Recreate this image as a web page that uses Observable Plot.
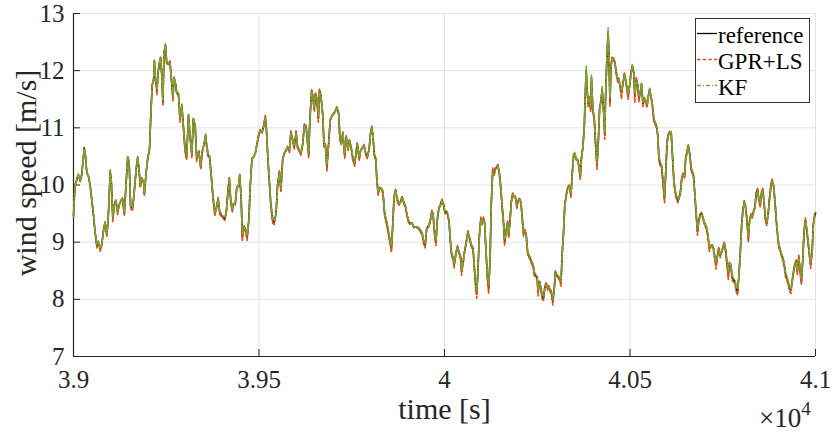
<!DOCTYPE html>
<html>
<head>
<meta charset="utf-8">
<script src="https://cdn.jsdelivr.net/npm/d3@7"></script>
<script src="https://cdn.jsdelivr.net/npm/@observablehq/plot@0.6"></script>
<style>
  html, body { margin: 0; padding: 0; background: #fff; }
  #chart { width: 832px; height: 433px; }
</style>
</head>
<body>
<div id="chart"></div>
<script>
// ---- data ----
const seriesNames = ["reference", "GPR+LS", "KF"];
const seriesColors = ["#000000", "#D95319", "#77AC30"];

const xTicks = [39000, 39500, 40000, 40500, 41000];
const xTickLabels = ["3.9", "3.95", "4", "4.05", "4.1"];
const yTicks = [7, 8, 9, 10, 11, 12, 13];
const xExponentLabel = "×10";
const xExponent = "4";
const xLabel = "time [s]";
const yLabel = "wind speed [m/s]";

const time = [
39000,39004,39011,39013,39018,39022,39029,39032,39036,39040,
39045,39049,39054,39058,39063,39067,39072,39076,39081,39085,
39090,39094,39099,39102,39106,39110,39114,39119,39123,39128,
39132,39137,39142,39146,39150,39154,39159,39163,39169,39173,
39177,39180,39184,39189,39191,39196,39200,39205,39208,39212,
39216,39218,39221,39225,39228,39232,39235,39238,39241,39244,
39248,39251,39256,39260,39265,39268,39271,39275,39278,39283,
39287,39292,39296,39301,39305,39310,39314,39319,39323,39328,
39332,
39334,39338,39343,39347,39352,39356,39359,39363,39367,39372,
39376,39381,39385,39390,39394,39399,39403,39408,39412,39417,
39420,39424,39428,39431,39436,39440,39445,39448,39452,39455,
39460,39464,39468,39473,39476,39481,39485,39490,39494,39499,
39503,39508,39512,39517,39520,39524,39528,39532,39537,39541,
39546,39550,39555,39559,39564,39568,39573,39577,39582,39586,
39591,39595,39600,39604,39609,39613,39618,39622,39627,39630,
39634,39637,39642,39645,39649,39652,39656,39660,39663,39667,
39672,39675,39679,39683,39688,39692,39697,39701,39706,39710,
39715,39718,39722,39726,39731,39735,39740,39744,39749,39753,
39758,39762,39765,39770,39774,39779,39783,39788,39792,39797,
39800,39804,39807,39811,39815,39817,39821,39825,39830,39834,
39839,39843,39848,39852,39857,39861,39864,39868,39872,39877,
39881,39886,39890,39895,39899,39904,39908,39913,39917,39922,
39926,39931,39935,39940,39944,39948,39952,39957,39961,39966,
39969,39974,39977,39981,39985,39989,39993,39997,40001,
40007,40012,40016,40019,40023,40026,40030,40035,40039,40044,
40046,40050,40054,40059,40063,40068,40072,40077,40080,40084,
40087,40090,40094,40098,40101,40105,40108,40112,40116,40119,
40123,40126,40130,40134,40137,40141,40144,40148,40152,40155,
40159,40162,40166,40170,40173,40177,40180,40184,40188,40191,
40195,40198,40202,40206,40209,40213,40216,40220,40224,40227,
40231,40234,40239,40242,40246,40250,40252,40256,40260,40263,
40267,40270,40274,40278,40281,40285,40288,40292,40296,40299,
40303,40306,40310,40314,40317,40321,40324,40328,40332,40336,
40341,40344,40348,40351,40355,40359,40362,40366,40369,40373,
40377,40379,40382,40385,40387,40391,40394,40396,40400,40404,
40407,40411,40414,40418,40422,40425,40429,40432,40434,40438,
40441,40443,40446,40449,40452,40456,40459,40463,40467,40470,
40474,40477,40481,40485,40488,40492,40495,40499,40503,40506,
40510,40513,40517,40521,40524,40528,40531,40535,40539,40542,
40546,40549,40553,40557,40560,40564,40567,40571,40575,40578,
40582,40585,40589,40593,40596,40600,40603,40607,40611,40614,
40618,40621,40625,40629,40632,40636,40639,40643,40647,40650,
40654,40657,40661,40665,40668,
40671,40675,40678,40682,40685,40689,40693,40696,40700,40703,
40707,40711,40714,40718,40721,40725,40729,40732,40736,40739,
40743,40747,40750,40754,40757,40761,40765,40768,40772,40775,
40779,40783,40786,40790,40793,40797,40801,40804,40808,40811,
40815,40819,40822,40826,40829,40833,40837,40840,40844,40847,
40851,40855,40858,40862,40865,40869,40873,40876,40880,40883,
40887,40891,40894,40898,40901,40905,40909,40912,40916,40919,
40923,40927,40930,40934,40937,40941,40944,40948,40951,40955,
40958,40962,40966,40969,40973,40976,40980,40984,40987,40991,
40994,40998,41000
];

const reference = [
9.47,9.99,10.14,10.18,10.08,10.17,10.65,10.52,10.20,10.17,
9.99,9.76,9.47,9.18,8.95,9.00,8.88,8.95,9.21,9.35,
9.12,9.47,10.23,10.05,9.41,9.65,9.73,9.53,9.65,9.73,
9.76,9.50,10.05,10.49,10.40,9.62,9.59,9.82,10.28,10.49,
10.23,9.99,10.11,10.05,9.85,10.23,10.46,10.63,11.16,11.74,
11.85,12.17,11.85,11.65,11.97,12.15,12.23,11.91,11.45,12.32,
12.44,12.15,12.12,12.15,11.77,11.53,11.88,11.77,11.62,11.59,
11.16,11.39,11.04,10.60,10.49,11.22,10.87,10.52,11.16,11.04,
10.46,
10.52,10.58,10.31,10.58,10.72,10.87,10.69,10.52,10.49,10.11,
9.79,9.50,9.59,9.76,9.53,9.47,9.44,9.41,9.53,9.94,
10.11,9.70,9.56,9.67,9.67,9.94,9.99,10.17,9.76,9.09,
9.27,9.21,9.09,9.41,9.94,10.46,10.49,10.55,10.69,10.87,
10.95,10.92,11.01,11.19,10.98,10.46,10.05,9.65,9.38,9.35,
9.50,9.99,10.23,9.91,10.46,10.55,10.60,10.66,10.60,10.92,
10.78,10.66,10.92,10.66,10.60,10.55,10.72,11.04,11.04,10.81,
10.52,11.13,11.65,11.56,11.33,11.59,11.51,11.16,11.65,11.56,
11.22,10.72,10.69,10.31,10.75,11.13,11.22,11.24,11.30,11.36,
11.24,10.81,10.72,10.92,10.52,10.84,10.63,10.78,10.63,10.46,
10.37,10.58,10.72,10.46,10.60,10.66,10.69,10.55,10.49,10.63,
10.87,11.01,10.87,10.52,10.46,10.17,9.85,9.94,9.94,9.88,
9.47,9.38,9.21,9.06,8.89,9.35,9.79,9.91,9.76,9.67,
9.70,9.79,9.70,9.62,9.47,9.35,9.33,9.33,9.27,9.27,
9.27,9.24,9.21,9.15,9.00,8.95,9.24,9.27,9.35,9.53,
9.50,9.12,9.00,9.41,9.59,9.65,9.73,9.67,9.53,
9.53,9.38,9.01,8.80,8.72,8.60,8.77,8.92,8.83,8.72,
8.48,8.63,8.83,9.01,9.18,9.06,8.95,8.89,8.60,8.25,
8.10,8.48,9.12,9.41,9.33,9.41,9.35,8.83,8.37,8.19,
8.72,9.65,10.26,10.20,10.28,10.31,10.34,10.20,9.94,9.65,
9.35,9.00,9.18,9.35,9.12,9.41,9.70,9.85,9.79,9.79,
9.62,9.70,9.76,9.70,9.47,9.15,9.21,9.15,8.83,8.77,
8.72,8.66,8.60,8.45,8.42,8.37,8.13,8.31,8.19,8.05,
8.02,8.19,8.28,8.19,8.22,8.16,8.13,7.96,8.19,8.48,
8.42,8.40,8.37,8.28,8.77,9.18,9.62,9.82,9.94,9.98,
9.82,10.17,10.52,10.55,10.46,10.43,10.34,10.14,10.46,10.66,
11.04,11.51,12.00,11.62,11.42,11.53,11.33,11.88,11.33,11.13,
10.75,10.34,10.66,11.33,11.48,11.68,11.27,10.87,11.51,12.26,
12.67,12.32,11.45,12.09,12.23,12.20,12.15,11.97,11.83,11.85,
11.71,11.62,11.77,11.94,11.85,11.68,11.56,11.74,11.97,12.09,
11.97,11.56,11.85,11.74,11.51,11.62,11.77,11.42,11.51,11.48,
11.39,11.53,11.68,11.53,11.42,11.16,11.10,11.04,10.87,10.46,
10.37,10.34,10.05,9.76,10.17,10.75,10.87,10.92,10.92,10.58,
10.11,9.91,9.79,9.73,9.76,9.88,10.08,10.20,10.14,10.46,
10.58,10.69,10.55,10.28,10.23,
10.17,9.82,9.53,9.18,9.35,9.47,9.50,9.44,9.35,9.30,
9.24,9.06,8.89,8.92,8.95,8.89,8.72,8.60,8.77,8.89,
8.77,8.83,8.89,8.98,8.89,8.66,8.42,8.63,8.60,8.40,
8.34,8.31,8.19,8.13,8.37,8.77,9.30,9.53,9.70,9.65,
9.41,9.06,9.35,9.47,9.44,9.53,9.62,9.85,9.91,9.76,
9.65,9.88,9.91,9.65,9.41,9.33,9.53,9.76,9.99,10.08,
9.99,9.70,9.41,9.12,8.95,8.86,8.77,8.72,8.60,8.45,
8.37,8.28,8.19,8.16,8.31,8.48,8.60,8.66,8.48,8.74,
8.54,8.31,8.72,9.18,9.38,9.24,9.01,8.77,8.60,8.83,
9.30,9.47,9.50
];

const gprLs = [
9.44,10.01,10.12,10.20,10.06,10.19,10.62,10.50,10.22,10.15,
9.97,9.74,9.45,9.16,8.90,9.02,8.84,8.93,9.23,9.33,
9.09,9.49,10.26,10.02,9.36,9.67,9.71,9.48,9.66,9.71,
9.78,9.46,10.07,10.47,10.42,9.58,9.56,9.84,10.30,10.47,
10.25,9.95,10.13,10.03,9.81,10.25,10.44,10.66,11.14,11.76,
11.83,12.19,11.82,11.58,11.99,12.13,12.25,11.88,11.40,12.30,
12.46,12.13,12.10,12.17,11.75,11.47,11.90,11.74,11.60,11.56,
11.10,11.41,11.00,10.55,10.44,11.24,10.84,10.47,11.18,11.02,
10.41,
10.49,10.60,10.27,10.60,10.70,10.89,10.66,10.49,10.47,10.08,
9.76,9.45,9.61,9.78,9.49,9.45,9.42,9.38,9.55,9.97,
10.13,9.66,9.53,9.69,9.65,9.96,10.01,10.20,9.72,9.02,
9.29,9.17,9.03,9.44,9.96,10.48,10.47,10.57,10.71,10.89,
10.97,10.90,11.03,11.22,10.95,10.42,10.01,9.60,9.33,9.31,
9.53,10.02,10.25,9.87,10.48,10.53,10.62,10.68,10.57,10.95,
10.75,10.63,10.95,10.63,10.58,10.52,10.74,11.07,11.02,10.77,
10.47,11.16,11.68,11.53,11.28,11.61,11.48,11.10,11.68,11.53,
11.18,10.66,10.72,10.24,10.78,11.15,11.20,11.26,11.28,11.38,
11.21,10.76,10.75,10.90,10.47,10.86,10.60,10.80,10.60,10.42,
10.33,10.60,10.74,10.42,10.62,10.64,10.71,10.52,10.46,10.65,
10.89,11.03,10.84,10.48,10.43,10.13,9.82,9.96,9.92,9.85,
9.44,9.33,9.17,9.01,8.82,9.38,9.81,9.93,9.73,9.64,
9.72,9.81,9.68,9.59,9.44,9.32,9.31,9.34,9.25,9.28,
9.25,9.22,9.18,9.12,8.96,8.90,9.26,9.29,9.37,9.56,
9.47,9.05,8.94,9.44,9.61,9.67,9.75,9.65,9.50,
9.50,9.35,8.97,8.76,8.69,8.55,8.79,8.94,8.80,8.68,
8.42,8.65,8.85,9.03,9.20,9.03,8.92,8.86,8.55,8.18,
8.02,8.51,9.15,9.44,9.30,9.44,9.32,8.78,8.30,8.10,
8.76,9.70,10.30,10.17,10.31,10.33,10.36,10.17,9.90,9.61,
9.31,8.94,9.21,9.37,9.08,9.44,9.73,9.87,9.77,9.81,
9.58,9.72,9.78,9.67,9.43,9.10,9.23,9.12,8.79,8.74,
8.69,8.63,8.56,8.41,8.39,8.33,8.06,8.33,8.15,8.00,
7.98,8.21,8.30,8.16,8.24,8.13,8.09,7.90,8.22,8.50,
8.39,8.37,8.34,8.23,8.80,9.21,9.65,9.84,9.96,10.00,
9.78,10.20,10.55,10.52,10.43,10.45,10.31,10.10,10.49,10.69,
11.08,11.55,11.96,11.57,11.37,11.55,11.28,11.84,11.28,11.10,
10.70,10.27,10.70,11.36,11.50,11.64,11.22,10.80,11.55,12.28,
12.62,12.27,11.38,12.12,12.25,12.17,12.12,11.93,11.80,11.87,
11.66,11.50,11.80,11.96,11.82,11.64,11.50,11.77,12.00,12.06,
11.94,11.45,11.88,11.70,11.45,11.65,11.74,11.37,11.53,11.45,
11.35,11.56,11.66,11.50,11.38,11.12,11.07,11.01,10.83,10.41,
10.33,10.30,10.00,9.69,10.20,10.78,10.89,10.94,10.89,10.53,
10.06,9.87,9.75,9.69,9.78,9.91,10.11,10.22,10.11,10.49,
10.61,10.71,10.52,10.24,10.19,
10.20,9.78,9.48,9.12,9.38,9.50,9.52,9.41,9.32,9.27,
9.21,9.02,8.84,8.94,8.97,8.85,8.67,8.53,8.80,8.91,
8.73,8.85,8.91,9.01,8.86,8.61,8.35,8.66,8.56,8.34,
8.30,8.27,8.14,8.07,8.40,8.80,9.33,9.57,9.73,9.62,
9.37,9.00,9.38,9.50,9.41,9.55,9.65,9.88,9.94,9.72,
9.61,9.91,9.94,9.61,9.36,9.29,9.56,9.79,10.02,10.11,
9.96,9.66,9.37,9.08,8.91,8.83,8.74,8.68,8.55,8.40,
8.33,8.24,8.14,8.10,8.34,8.51,8.62,8.69,8.43,8.77,
8.49,8.25,8.75,9.21,9.42,9.21,8.97,8.72,8.54,8.86,
9.33,9.50,9.52
];

const kf = [
9.50,9.98,10.15,10.19,10.10,10.16,10.63,10.54,10.21,10.18,
10.00,9.78,9.49,9.20,8.97,9.01,8.90,8.96,9.20,9.36,
9.14,9.46,10.21,10.07,9.44,9.64,9.74,9.55,9.64,9.74,
9.75,9.53,10.03,10.50,10.41,9.65,9.61,9.81,10.27,10.50,
10.24,10.01,10.10,10.06,9.88,10.22,10.47,10.62,11.18,11.75,
11.87,12.20,11.87,11.68,11.96,12.17,12.22,11.94,11.50,12.33,
12.48,12.18,12.13,12.14,11.79,11.56,11.87,11.78,11.63,11.61,
11.19,11.38,11.06,10.62,10.52,11.20,10.89,10.55,11.15,11.05,
10.49,
10.54,10.57,10.34,10.57,10.73,10.86,10.71,10.55,10.51,10.14,
9.82,9.53,9.58,9.75,9.56,9.49,9.46,9.44,9.52,9.92,
10.10,9.73,9.58,9.66,9.68,9.93,10.00,10.16,9.79,9.14,
9.26,9.24,9.13,9.39,9.92,10.44,10.50,10.54,10.68,10.86,
10.94,10.93,11.00,11.17,11.00,10.50,10.08,9.69,9.42,9.38,
9.48,9.97,10.22,9.94,10.44,10.56,10.59,10.65,10.62,10.90,
10.80,10.68,10.90,10.68,10.62,10.57,10.71,11.02,11.05,10.84,
10.56,11.10,11.63,11.58,11.37,11.57,11.53,11.21,11.62,11.58,
11.25,10.76,10.67,10.36,10.72,11.11,11.23,11.23,11.31,11.35,
11.27,10.85,10.70,10.93,10.56,10.83,10.65,10.77,10.65,10.49,
10.40,10.57,10.70,10.49,10.59,10.67,10.68,10.57,10.51,10.62,
10.85,11.00,10.89,10.55,10.48,10.20,9.88,9.93,9.95,9.90,
9.50,9.41,9.24,9.09,8.93,9.32,9.77,9.90,9.78,9.69,
9.69,9.78,9.71,9.64,9.49,9.37,9.34,9.32,9.28,9.26,
9.28,9.25,9.22,9.17,9.03,8.98,9.22,9.26,9.34,9.51,
9.52,9.16,9.04,9.39,9.58,9.64,9.72,9.68,9.55,
9.55,9.41,9.05,8.83,8.74,8.63,8.75,8.90,8.85,8.75,
8.53,8.61,8.81,8.99,9.16,9.08,8.97,8.91,8.64,8.31,
8.16,8.45,9.09,9.38,9.35,9.39,9.37,8.87,8.42,8.25,
8.68,9.60,10.22,10.22,10.26,10.29,10.33,10.22,9.97,9.68,
9.38,9.05,9.16,9.33,9.15,9.38,9.67,9.83,9.80,9.77,
9.65,9.68,9.74,9.72,9.50,9.19,9.19,9.17,8.86,8.79,
8.74,8.68,8.62,8.48,8.44,8.40,8.18,8.29,8.22,8.09,
8.05,8.17,8.26,8.21,8.20,8.18,8.15,8.01,8.17,8.45,
8.44,8.42,8.39,8.31,8.73,9.15,9.59,9.80,9.92,9.96,
9.86,10.14,10.50,10.57,10.48,10.42,10.36,10.18,10.43,10.64,
11.02,11.55,12.08,11.66,11.46,11.52,11.37,11.93,11.36,11.15,
10.79,10.40,10.62,11.30,11.46,11.72,11.30,10.93,11.48,12.30,
12.75,12.36,11.52,12.06,12.22,12.23,12.17,12.00,11.85,11.84,
11.74,11.66,11.75,11.92,11.87,11.70,11.60,11.72,11.95,12.11,
12.00,11.62,11.82,11.77,11.56,11.60,11.79,11.46,11.49,11.50,
11.42,11.51,11.69,11.56,11.45,11.19,11.12,11.06,10.90,10.50,
10.40,10.37,10.09,9.82,10.14,10.72,10.85,10.91,10.94,10.62,
10.15,9.94,9.82,9.76,9.75,9.86,10.06,10.18,10.16,10.43,
10.56,10.67,10.57,10.31,10.26,
10.14,9.85,9.57,9.23,9.32,9.45,9.48,9.46,9.37,9.32,
9.26,9.09,8.93,8.91,8.94,8.92,8.76,8.65,8.75,8.87,
8.79,8.82,8.88,8.96,8.91,8.70,8.47,8.60,8.63,8.44,
8.37,8.34,8.23,8.18,8.34,8.74,9.26,9.50,9.68,9.67,
9.44,9.10,9.32,9.45,9.46,9.51,9.60,9.82,9.89,9.79,
9.68,9.85,9.89,9.68,9.45,9.36,9.50,9.73,9.96,10.06,
10.01,9.73,9.45,9.15,8.98,8.88,8.79,8.74,8.63,8.49,
8.40,8.31,8.23,8.19,8.28,8.46,8.58,8.64,8.52,8.71,
8.57,8.35,8.69,9.15,9.36,9.27,9.04,8.81,8.64,8.80,
9.27,9.45,9.49
];

// ---- build table ----
const n = Math.min(time.length, reference.length, gprLs.length, kf.length);
const valueArrays = [reference, gprLs, kf];
const rows = [];
valueArrays.forEach((arr, s) => {
  for (let i = 0; i < n; i++) rows.push({t: time[i], v: arr[i], series: seriesNames[s]});
});
const bySeries = name => rows.filter(r => r.series === name);
const xLabelMap = new Map(xTicks.map((d, i) => [d, xTickLabels[i]]));

const FONT = "'Liberation Serif', 'Times New Roman', Times, serif";
const AXIS = "#262626";
const GRID = "#e3e3e3";
const dashes = [null, "3.5,2.2", "4,2,1,2"];

const chart = Plot.plot({
  width: 832,
  height: 433,
  marginLeft: 73,
  marginRight: 17,
  marginTop: 13,
  marginBottom: 77,
  style: {fontFamily: FONT, background: "#ffffff", color: AXIS},
  x: {domain: [39000, 41000]},
  y: {domain: [7, 13]},
  marks: [
    Plot.gridX(xTicks, {stroke: GRID, strokeOpacity: 1, strokeWidth: 1}),
    Plot.gridY(yTicks, {stroke: GRID, strokeOpacity: 1, strokeWidth: 1}),
    // inward tick marks
    Plot.axisX(xTicks, {tickSize: -7, tickFormat: () => "", stroke: AXIS, label: null}),
    Plot.axisY(yTicks, {tickSize: -7, tickFormat: () => "", stroke: AXIS, label: null}),
    // tick labels
    Plot.axisX(xTicks, {tickSize: 0, tickPadding: 14, tickFormat: d => xLabelMap.get(d), fontSize: 25, fill: AXIS, label: null}),
    Plot.axisY(yTicks, {tickSize: 0, tickPadding: 9, tickFormat: d => String(d), fontSize: 25, fill: AXIS, label: null}),
    // axis lines
    Plot.ruleY([7], {stroke: AXIS, strokeWidth: 1.2}),
    Plot.ruleX([39000], {stroke: AXIS, strokeWidth: 1.2}),
    // series
    ...seriesNames.map((name, s) => Plot.line(bySeries(name), {
      x: "t", y: "v",
      stroke: seriesColors[s],
      strokeWidth: 1.6,
      strokeDasharray: dashes[s],
      strokeLinejoin: "round"
    })),
    // axis titles
    Plot.text([xLabel], {frameAnchor: "bottom", textAnchor: "middle", lineAnchor: "middle", dy: 53, fontSize: 30, fill: AXIS}),
    Plot.text([yLabel], {frameAnchor: "left", textAnchor: "middle", lineAnchor: "middle", rotate: -90, dx: -47, dy: -12, fontSize: 30, fill: AXIS})
  ]
});

const svg = d3.select(chart);

// exponent label  ×10^4
const ex = svg.append("text")
  .attr("x", 759).attr("y", 427).attr("text-anchor", "start")
  .attr("font-family", FONT).attr("font-size", 27).attr("fill", AXIS);
ex.append("tspan").text(xExponentLabel);
ex.append("tspan").attr("font-size", 19).attr("dy", -12).text(xExponent);

// legend
const lg = svg.append("g").attr("font-family", FONT).attr("text-anchor", "start");
lg.append("rect")
  .attr("x", 695.5).attr("y", 18.5).attr("width", 114).attr("height", 84)
  .attr("fill", "#ffffff").attr("stroke", "#333333").attr("stroke-width", 1);
const rowBase = [43, 69, 95];
seriesNames.forEach((name, s) => {
  const yl = rowBase[s] - 9.5;
  lg.append("line")
    .attr("x1", 697).attr("x2", 717).attr("y1", yl).attr("y2", yl)
    .attr("stroke", seriesColors[s]).attr("stroke-width", 1.3)
    .attr("stroke-dasharray", dashes[s]);
  lg.append("text")
    .attr("x", 718).attr("y", rowBase[s]).attr("text-anchor", "start")
    .attr("font-size", 23).attr("fill", "#000").text(name);
});

document.getElementById("chart").appendChild(chart);
</script>
</body>
</html>
